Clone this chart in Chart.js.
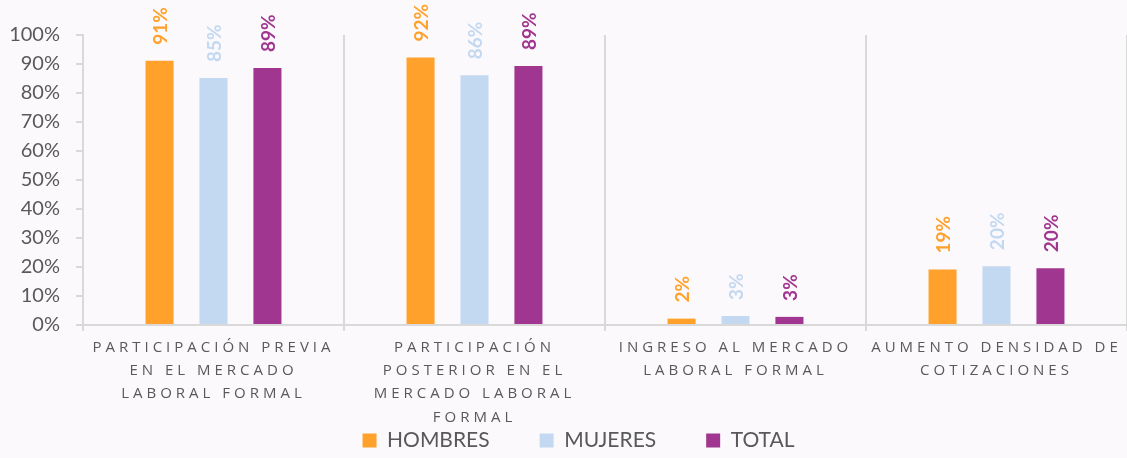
<!DOCTYPE html>
<html>
<head>
<meta charset="utf-8">
<script src="https://cdn.jsdelivr.net/npm/chart.js@4/dist/chart.umd.min.js"></script>
<style>
  html, body { margin: 0; padding: 0; background: #fbf9fc; }
  #wrap { width: 1127px; height: 458px; position: relative; }
</style>
</head>
<body>
<div id="wrap"><canvas id="chartBarGraph"></canvas></div>
<script>
// data
var categories = [
  ["PARTICIPACIÓN PREVIA", "EN EL MERCADO", "LABORAL FORMAL"],
  ["PARTICIPACIÓN", "POSTERIOR EN EL", "MERCADO LABORAL", "FORMAL"],
  ["INGRESO AL MERCADO", "LABORAL FORMAL"],
  ["AUMENTO DENSIDAD DE", "COTIZACIONES"]
];
var seriesNames = ["HOMBRES", "MUJERES", "TOTAL"];
var hombres = [91.1, 92.2, 2.2, 19.1];
var mujeres = [85.2, 86.1, 3.1, 20.3];
var total = [88.6, 89.3, 2.8, 19.6];
var yTickLabels = ["0%", "10%", "20%", "30%", "40%", "50%", "60%", "70%", "80%", "90%", "100%"];

var colors = ['#ffa12b', '#c3d8f1', '#a0368f'];
var gridColor = '#d9d9d9';
var textColor = '#595959';

// value labels, rotated, above each bar
var barLabels = {
  id: 'barLabels',
  afterDatasetsDraw: function (chart) {
    var ctx = chart.ctx;
    chart.data.datasets.forEach(function (ds, i) {
      var meta = chart.getDatasetMeta(i);
      meta.data.forEach(function (bar, j) {
        ctx.save();
        ctx.translate(bar.x, bar.y - 16);
        ctx.rotate(-Math.PI / 2);
        ctx.font = 'bold 19px Lato';
        ctx.fillStyle = ds.backgroundColor;
        ctx.textAlign = 'left';
        ctx.textBaseline = 'middle';
        ctx.fillText(Math.round(ds.data[j]) + '%', 0, 1);
        ctx.restore();
      });
    });
  }
};

// spaced capitals on the category axis, not clipped to the axis box
var spacedLabels = {
  id: 'spacedLabels',
  afterLayout: function (chart) {
    // legend sits a little right of centre in the original
    chart.legend.left += 15;
    chart.legend.right += 15;
    var sc = chart.scales.x;
    if (sc._spaced) return;
    var orig = sc.drawLabels;
    sc._computeLabelArea = function () { return null; };
    sc.drawLabels = function (area) {
      var ctx = this.ctx;
      ctx.save();
      ctx.letterSpacing = '4px';
      orig.call(this, area);
      ctx.restore();
    };
    sc._spaced = true;
  }
};

new Chart(document.getElementById("chartBarGraph"), {
  type: "bar",
  data: {
    labels: categories,
    datasets: [
      { label: seriesNames[0], data: hombres, backgroundColor: colors[0] },
      { label: seriesNames[1], data: mujeres, backgroundColor: colors[1] },
      { label: seriesNames[2], data: total, backgroundColor: colors[2] }
    ]
  },
  options: {
    responsive: true,
    maintainAspectRatio: false,
    animation: false,
    layout: { padding: { top: 35, left: 0, right: 0, bottom: -3 } },
    datasets: {
      bar: { categoryPercentage: 0.62, barPercentage: 0.52 }
    },
    scales: {
      x: {
        grid: { color: gridColor, lineWidth: 2, tickLength: 6, offset: true },
        border: { color: gridColor, width: 2 },
        ticks: {
          color: textColor,
          padding: 5,
          maxRotation: 0,
          autoSkip: false,
          font: { family: 'Open Sans', size: 15, lineHeight: 1.55 }
        },
        afterFit: function (scale) { scale.height = 55; }
      },
      y: {
        min: 0,
        max: 100,
        grid: { drawOnChartArea: false, color: gridColor, lineWidth: 2, tickLength: 7 },
        border: { color: gridColor, width: 2 },
        ticks: {
          stepSize: 10,
          color: textColor,
          padding: 16,
          font: { family: 'Lato', size: 20 },
          callback: function (v) { return yTickLabels[Math.round(v / 10)]; }
        },
        afterFit: function (scale) { scale.width = 83; }
      }
    },
    plugins: {
      legend: {
        position: 'bottom',
        labels: {
          boxWidth: 14,
          boxHeight: 14,
          padding: 50,
          color: textColor,
          font: { family: 'Lato', size: 21 }
        }
      },
      tooltip: { enabled: false }
    }
  },
  plugins: [barLabels, spacedLabels]
});
</script>
</body>
</html>
